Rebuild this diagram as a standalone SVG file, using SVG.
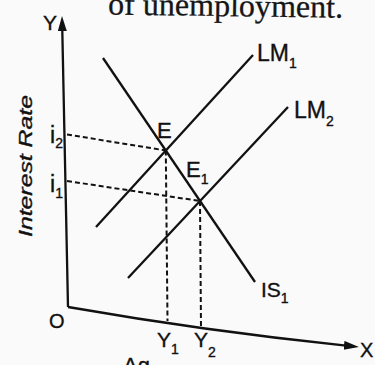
<svg xmlns="http://www.w3.org/2000/svg" width="375" height="365" viewBox="0 0 375 365">
  <style>
    .ln { fill: none; stroke: #111; stroke-width: 2.3; stroke-linecap: butt; }
    .ax { fill: none; stroke: #111; stroke-width: 2.3; marker-end: url(#arrow); }
    .dash { fill: none; stroke: #111; stroke-width: 2; stroke-dasharray: 5 3; }
    .lbl { font-family: "Liberation Sans", Arial, sans-serif; font-size: 20px; fill: #111; stroke: #111; stroke-width: 0.35; }
    .sub { font-size: 14px; }
    .page { font-family: "Liberation Serif", "Times New Roman", serif; font-size: 32px; fill: #161616; stroke: #161616; stroke-width: 0.3; }
  </style>
  <defs>
    <marker id="arrow" markerUnits="userSpaceOnUse" markerWidth="15" markerHeight="10" refX="2" refY="4.5" orient="auto">
      <path d="M0,0 L15,4.5 L0,9 Z" fill="#111"/>
    </marker>
  </defs>
  <rect x="0" y="0" width="375" height="365" fill="#fbfafa"/>

  <!-- page text clipped by the photo edges, as in the reference -->
  <text class="page" x="108" y="16" transform="rotate(0.8 220 16)" textLength="235" lengthAdjust="spacingAndGlyphs">of unemployment.</text>
  <text class="lbl" x="123" y="373" style="font-size:22px">Ag</text>

  <g id="axes">
    <path class="ax" d="M68,307 L62.27,29"/>
    <path class="ax" d="M68,307 Q205,331 346,345.6"/>
    <text class="lbl" x="43" y="30" style="font-size:21px">Y</text>
    <text class="lbl" x="360" y="357" style="font-size:20px">X</text>
    <text class="lbl" x="49" y="328" style="font-size:20px">O</text>
    <text class="lbl" transform="translate(32,166) rotate(-90)" text-anchor="middle" font-style="italic" style="font-size:18px" textLength="142" lengthAdjust="spacingAndGlyphs">Interest Rate</text>
  </g>

  <g id="connectors">
    <path class="dash" d="M67,134.5 L165.8,150.5"/>
    <path class="dash" d="M67,181 L200,201"/>
    <path class="dash" d="M165.8,150.5 L167.5,321"/>
    <path class="dash" d="M200,201 L201,327"/>
  </g>

  <g id="curve-IS1">
    <path class="ln" d="M103,58 L255,282"/>
    <text class="lbl" x="261" y="297" style="font-size:21px">IS<tspan class="sub" dy="6">1</tspan></text>
  </g>

  <g id="curve-LM1">
    <path class="ln" d="M96,227 L253,55"/>
    <text class="lbl" x="257" y="61" style="font-size:23px">LM<tspan class="sub" dy="7">1</tspan></text>
  </g>

  <g id="curve-LM2">
    <path class="ln" d="M128,278 L288,107"/>
    <text class="lbl" x="294" y="118" style="font-size:23px">LM<tspan class="sub" dy="8">2</tspan></text>
  </g>

  <g id="point-E">
    <text class="lbl" x="157" y="138" style="font-size:22px">E</text>
  </g>

  <g id="point-E1">
    <text class="lbl" x="186" y="177" style="font-size:22px">E<tspan class="sub" dy="7">1</tspan></text>
  </g>

  <g id="level-i2">
    <text class="lbl" x="50" y="143" style="font-size:23px">i<tspan class="sub" dy="5">2</tspan></text>
  </g>

  <g id="level-i1">
    <text class="lbl" x="50" y="192" style="font-size:23px">i<tspan class="sub" dy="6">1</tspan></text>
  </g>

  <g id="output-Y1">
    <text class="lbl" x="157" y="347" style="font-size:21px">Y<tspan class="sub" dy="7">1</tspan></text>
  </g>

  <g id="output-Y2">
    <text class="lbl" x="194" y="347" style="font-size:21px">Y<tspan class="sub" dy="10">2</tspan></text>
  </g>
</svg>
